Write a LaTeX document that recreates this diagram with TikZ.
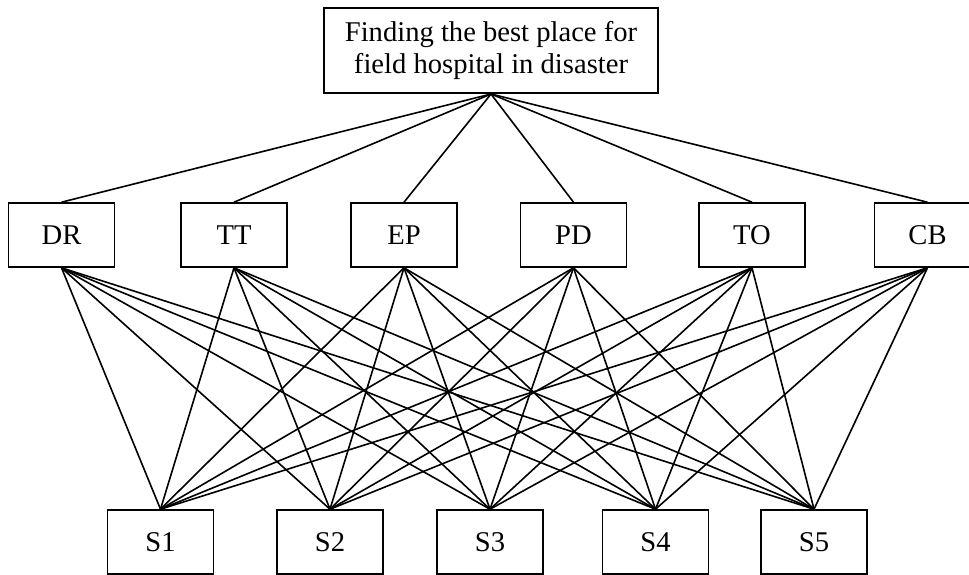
\documentclass[tikz,border=0pt]{standalone}
\usepackage{fontspec}
\setmainfont{Liberation Serif}
\usepackage{tikz}
\usetikzlibrary{positioning}

\begin{document}
\begin{tikzpicture}[x=0.5pt, y=-0.5pt, line width=0.8pt,
        box/.style={draw, rectangle, inner sep=0pt, minimum width=53pt, minimum height=32pt, font=\fontsize{14.3}{16}\selectfont}]
        \useasboundingbox (0,0) rectangle (969,574);

        % goal
        \node[draw, align=center, inner sep=0pt, minimum width=167pt, minimum height=42.5pt, font=\fontsize{14.3}{15.8}\selectfont] (Goal) at (491,50.7) {Finding the best place for\\field hospital in disaster};

        % criteria
        \node[box] (DR) at (61.5,235) {DR};
        \node[box] (TT) at (234,235) {TT};
        \node[box] (EP) at (404,235) {EP};
        \node[box] (PD) at (573.5,235) {PD};
        \node[box] (TO) at (752,235) {TO};
        \node[box] (CB) at (927.5,235) {CB};

        % sites
        \node[box] (S1) at (160.5,542) {S1};
        \node[box] (S2) at (330,542) {S2};
        \node[box] (S3) at (490,542) {S3};
        \node[box] (S4) at (655.5,542) {S4};
        \node[box] (S5) at (814,542) {S5};

        \foreach \c in {DR,TT,EP,PD,TO,CB} {
            \draw (Goal.south) -- (\c.north);
            \foreach \i in {1,...,5}
                \draw (\c.south) -- (S\i.north);
        }
    \end{tikzpicture}
\end{document}
